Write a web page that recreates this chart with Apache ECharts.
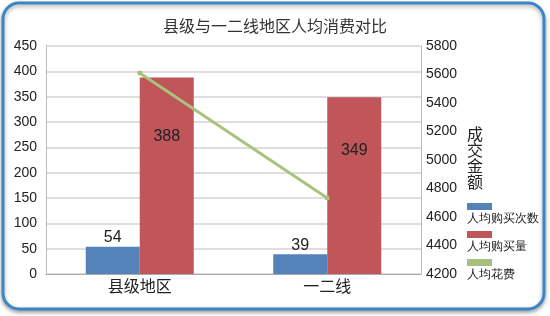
<!DOCTYPE html>
<html>
<head>
<meta charset="utf-8">
<script src="https://cdn.jsdelivr.net/npm/echarts@6/dist/echarts.min.js"></script>
<style>
html,body{margin:0;padding:0;background:#fff;}
#c{width:550px;height:316px;}
</style>
</head>
<body>
<div id="c"></div>
<script>
const categories = ['县级地区', '一二线'];
const buyTimes = [54, 39];
const buyAmount = [388, 349];
const spending = [5610, 4733];
const seriesNames = ['人均购买次数', '人均购买量', '人均花费'];
const title = '县级与一二线地区人均消费对比';
const rightAxisName = '成交金额';

const chart = echarts.init(document.getElementById('c'), null, {renderer: 'canvas'});
const FONT = '"Liberation Sans", "Noto Sans CJK SC", sans-serif';
const legendTop = 203, legendStep = 28;
chart.setOption({
  animation: false,
  textStyle: {fontFamily: FONT},
  title: {
    text: title, left: 'center', top: 15,
    textStyle: {fontSize: 16, fontWeight: 'normal', color: '#333', fontFamily: FONT}
  },
  graphic: [{
    type: 'rect', z: -10, silent: true,
    shape: {x: 3, y: 3, width: 541, height: 306, r: 16},
    style: {fill: '#fff', stroke: '#3a86c6', lineWidth: 3,
            shadowBlur: 4, shadowColor: 'rgba(0,0,0,0.35)', shadowOffsetY: 2}
  }].concat(seriesNames.map((n, i) => ({
    type: 'text', silent: true, left: 467, top: legendTop + 10 + i * legendStep,
    style: {text: n, fontSize: 12, fill: '#222', font: '12px ' + FONT}
  }))),
  legend: {
    orient: 'vertical', left: 467, top: legendTop, itemWidth: 25, itemHeight: 7,
    itemGap: legendStep - 7, padding: 0,
    icon: 'rect',
    data: seriesNames,
    formatter: () => '',
    textStyle: {fontSize: 1}
  },
  grid: {left: 46, right: 129, top: 46, bottom: 42},
  xAxis: {
    type: 'category', data: categories,
    axisLine: {lineStyle: {color: '#aaa'}},
    axisTick: {show: false},
    axisLabel: {fontSize: 16, color: '#222', margin: 6}
  },
  yAxis: [{
    type: 'value', min: 0, max: 450, interval: 50,
    axisLine: {show: true, lineStyle: {color: '#bbb'}},
    axisTick: {show: false},
    axisLabel: {fontSize: 14, color: '#222', margin: 9},
    splitLine: {lineStyle: {color: '#d9d2d2', width: 1.5}}
  }, {
    type: 'value', min: 4200, max: 5800, interval: 200, position: 'right',
    axisLine: {show: true, lineStyle: {color: '#bbb'}},
    axisTick: {show: false},
    axisLabel: {fontSize: 14, color: '#222', margin: 5, formatter: v => String(v)},
    splitLine: {show: false},
    name: rightAxisName.split('').join('\n'), nameLocation: 'middle', nameRotate: 0, nameGap: 46,
    nameTextStyle: {fontSize: 16, lineHeight: 16, color: '#222', align: 'left'}
  }],
  series: [{
    name: seriesNames[0], type: 'bar', data: buyTimes, barWidth: 54, barGap: '0%',
    itemStyle: {color: '#5482b9'},
    label: {show: true, position: 'top', distance: 1, fontSize: 16, color: '#222'}
  }, {
    name: seriesNames[1], type: 'bar', data: buyAmount, barWidth: 54, barGap: '0%',
    itemStyle: {color: '#c0555a'},
    label: {show: true, position: ['50%', '30%'], align: 'center', verticalAlign: 'middle', fontSize: 16, color: '#222'}
  }, {
    name: seriesNames[2], type: 'line', yAxisIndex: 1, data: spending,
    symbol: 'circle', symbolSize: 5,
    itemStyle: {color: '#a6bf7c'},
    lineStyle: {color: '#a9c27f', width: 3}
  }]
});
</script>
</body>
</html>
